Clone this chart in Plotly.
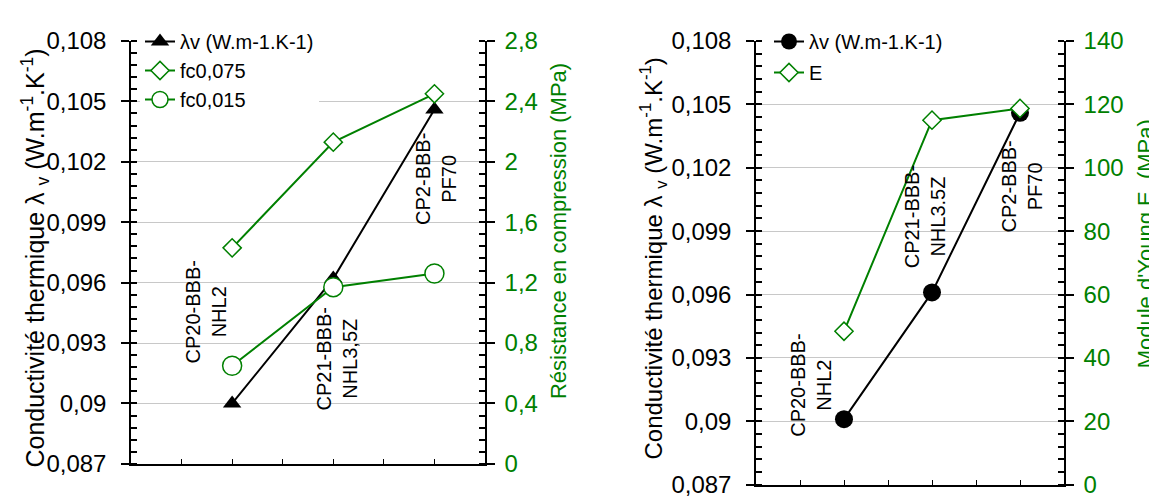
import plotly.graph_objects as go

# ---------------- data ----------------
x_pos = [1, 2, 3]
labels_left = ["CP20-BBB-<br>NHL2", "CP21-BBB-<br>NHL3,5Z", "CP2-BBB-<br>PF70"]
labels_right = ["CP20-BBB-<br>NHL2", "CP21-BBB-<br>NHL3.5Z", "CP2-BBB-<br>PF70"]

lambda_left = [0.0900, 0.0962, 0.1046]
fc0075 = [1.43, 2.13, 2.45]
fc0015 = [0.65, 1.17, 1.26]

lambda_right = [0.0901, 0.0961, 0.1046]
E_young = [48.4, 115.0, 118.7]

# label anchor positions (data coords) for category names
lab_left_x = [0.74, 2.04, 3.02]
lab_left_y = [0.09456, 0.0922, 0.10117]
lab_right_x = [0.63, 1.92, 3.02]
lab_right_y = [0.0917, 0.0997, 0.1011]

title_lambda = "Conductivité thermique λ <sub>v</sub> (W.m<sup>-1</sup>.K<sup>-1</sup>)"
title_fc = "Résistance en compression (MPa)"
title_E = "Module d'Young E  (MPa)"

GREEN = "#008000"
FONT = "Liberation Sans, Arial, sans-serif"
W, H = 1157, 502

fig = go.Figure()

# left chart
fig.add_trace(go.Scatter(x=x_pos, y=lambda_left, name="λv (W.m-1.K-1)", mode="lines+markers",
                         line=dict(color="black", width=2),
                         marker=dict(symbol="triangle-up", size=16, color="black"),
                         xaxis="x", yaxis="y", legend="legend"))
fig.add_trace(go.Scatter(x=x_pos, y=fc0075, name="fc0,075", mode="lines+markers",
                         line=dict(color=GREEN, width=2),
                         marker=dict(symbol="diamond", size=14, color="white",
                                     line=dict(color=GREEN, width=1.5)),
                         xaxis="x", yaxis="y2", legend="legend"))
fig.add_trace(go.Scatter(x=x_pos, y=fc0015, name="fc0,015", mode="lines+markers",
                         line=dict(color=GREEN, width=2),
                         marker=dict(symbol="circle", size=19, color="white",
                                     line=dict(color=GREEN, width=1.5)),
                         xaxis="x", yaxis="y2", legend="legend"))

# right chart
fig.add_trace(go.Scatter(x=x_pos, y=lambda_right, name="λv (W.m-1.K-1)", mode="lines+markers",
                         line=dict(color="black", width=2),
                         marker=dict(symbol="circle", size=18, color="black"),
                         xaxis="x2", yaxis="y3", legend="legend2", legendgroup="a"))
fig.add_trace(go.Scatter(x=x_pos, y=E_young, name="E", mode="lines+markers",
                         line=dict(color=GREEN, width=2),
                         marker=dict(symbol="diamond", size=14, color="white",
                                     line=dict(color=GREEN, width=1.5)),
                         xaxis="x2", yaxis="y4", legend="legend2", legendgroup="b"))

annotations = []
for t, xx, yy in zip(labels_left, lab_left_x, lab_left_y):
    annotations.append(dict(text=t, x=xx, y=yy, xref="x", yref="y", showarrow=False,
                            textangle=-90, font=dict(size=20, color="black", family=FONT),
                            align="center"))
for t, xx, yy in zip(labels_right, lab_right_x, lab_right_y):
    annotations.append(dict(text=t, x=xx, y=yy, xref="x2", yref="y3", showarrow=False,
                            textangle=-90, font=dict(size=20, color="black", family=FONT),
                            align="center"))

# axis titles (placed in pixel-derived paper coordinates)
def ttl(text, px, py, size, color):
    return dict(text=text, x=px / W, y=1 - py / H, xref="paper", yref="paper",
                showarrow=False, textangle=-90, xanchor="center", yanchor="middle",
                font=dict(size=size, color=color, family=FONT))

annotations += [
    ttl(title_lambda, 27, 250, 25, "black"),
    ttl(title_fc, 550, 221, 22, GREEN),
    ttl(title_lambda, 645, 250, 24, "black"),
    ttl(title_E, 1137, 235, 22, GREEN),
]

xax = dict(range=[0, 3.5], tickmode="linear", tick0=0, dtick=0.5, showticklabels=False,
           ticks="inside", ticklen=5, tickcolor="black", showline=True, linecolor="black",
           linewidth=1.5, showgrid=False, zeroline=False, fixedrange=True)

def lam_axis(anchor, domain):
    return dict(range=[0.087, 0.108], tickmode="linear", tick0=0.087, dtick=0.003,
                ticks="outside", ticklen=8, tickcolor="black", tickwidth=1.5,
                minor=dict(ticks="inside", dtick=0.0006, ticklen=6, tickcolor="black", showgrid=False),
                showline=True, linecolor="black", linewidth=1.5,
                showgrid=True, gridcolor="#c8c8c8", gridwidth=1, zeroline=False,
                tickfont=dict(size=24, color="black", family=FONT), ticklabelstandoff=10,
                anchor=anchor, domain=domain)

def right_axis(rng, dt, mdt, overlay, anchor):
    return dict(range=rng, tickmode="linear", tick0=0, dtick=dt,
                ticks="outside", ticklen=8, tickcolor="black", tickwidth=1.5,
                minor=dict(ticks="inside", dtick=mdt, ticklen=6, tickcolor="black", showgrid=False),
                showline=True, linecolor="black", linewidth=1.5, showgrid=False, zeroline=False,
                tickfont=dict(size=24, color=GREEN, family=FONT), ticklabelstandoff=5,
                overlaying=overlay, side="right", anchor=anchor)

left_dom_x = [123 / W, 477 / W]
right_dom_x = [748 / W, 1056 / W]
left_dom_y = [1 - 467 / H, 1 - 20 / H]
right_dom_y = [1 - 489 / H, 1 - 20 / H]

fig.update_layout(
    width=W, height=H,
    margin=dict(l=0, r=0, t=0, b=0),
    paper_bgcolor="white", plot_bgcolor="white",
    separators=", ",
    font=dict(family=FONT, color="black"),
    xaxis=dict(xax, domain=left_dom_x, anchor="y"),
    xaxis2=dict(xax, domain=right_dom_x, anchor="y3"),
    yaxis=lam_axis("x", left_dom_y),
    yaxis2=right_axis([0, 2.8], 0.4, 0.08, "y", "x"),
    yaxis3=lam_axis("x2", right_dom_y),
    yaxis4=right_axis([0, 140], 20, 4, "y3", "x2"),
    legend=dict(x=132 / W, y=1.0, xanchor="left", yanchor="top", bgcolor="white",
                font=dict(size=20, color="black", family=FONT), tracegroupgap=0,
                itemwidth=30),
    legend2=dict(x=761 / W, y=1.0, xanchor="left", yanchor="top", bgcolor="white",
                 font=dict(size=20, color="black", family=FONT), tracegroupgap=2,
                 itemwidth=30),
    annotations=annotations,
    showlegend=True,
)

fig.write_html("out.html")
